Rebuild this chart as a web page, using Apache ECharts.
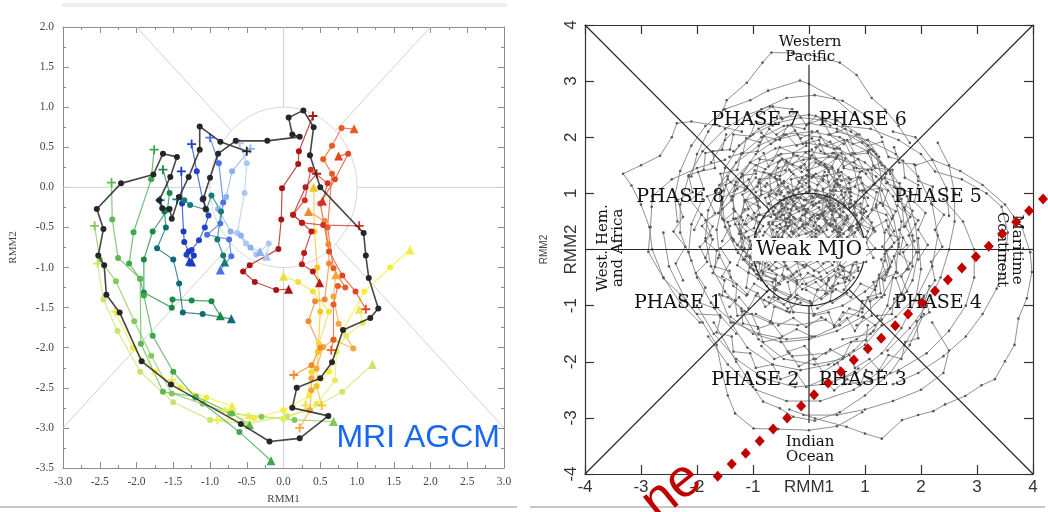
<!DOCTYPE html>
<html>
<head>
<meta charset="utf-8">
<script src="https://cdn.jsdelivr.net/npm/echarts@6/dist/echarts.min.js"></script>
<style>
  html, body { margin: 0; padding: 0; background: #fff; }
  #chart { width: 1048px; height: 512px; }
</style>
</head>
<body>
<div id="chart"></div>
<script>
// ===================== Left panel: MRI AGCM RMM trajectories =====================
// Observed (black) trajectory
const obsTrack = [[-0.50,0.45],[-0.86,0.57],[-1.14,0.76],[-1.14,0.47],[-1.29,0.13],[-1.42,-0.12],[-1.52,-0.39],[-1.55,-0.27],[-1.65,-0.26],[-1.69,-0.16],[-1.54,0.13],[-1.45,0.38],[-1.64,0.42],[-1.77,0.16],[-2.21,0.05],[-2.54,-0.27],[-2.45,-0.52],[-2.52,-0.85],[-2.44,-0.97],[-2.41,-1.34],[-2.23,-1.56],[-1.93,-2.17],[-1.53,-2.46],[-0.58,-2.95],[-0.19,-3.17],[0.22,-3.13],[0.61,-2.85],[0.12,-2.75],[0.18,-2.50],[0.50,-2.38],[0.66,-2.18],[0.81,-1.78],[1.18,-1.63],[1.29,-1.51],[1.16,-1.13],[1.12,-0.85],[1.09,-0.57],[0.50,0.00],[0.36,0.40],[0.41,0.75],[0.27,0.96],[0.07,0.87],[0.12,0.66],[0.22,0.63],[-0.22,0.58],[-0.65,0.58],[-0.89,0.42],[-1.00,0.12],[-1.09,-0.14],[-1.06,-0.27]];

// Model ensemble trajectories (start "+", end triangle)
const track01 = [[-2.57,-0.48],[-2.50,-0.90],[-2.28,-1.17],[-2.03,-1.67],[-1.80,-2.10],[-1.52,-2.57],[-1.10,-2.70],[-0.73,-2.82],[-0.30,-2.86],[0.15,-2.90],[0.68,-2.92]];
const track02 = [[-2.53,-0.95],[-2.45,-1.40],[-2.26,-1.79],[-1.95,-2.30],[-1.50,-2.68],[-1.00,-2.90],[-0.50,-2.95],[0.05,-2.85],[0.35,-2.78],[0.80,-2.55],[1.21,-2.21]];
const track03 = [[-2.29,-1.55],[-2.05,-2.00],[-1.75,-2.30],[-1.40,-2.50],[-1.05,-2.62],[-0.70,-2.73]];
const track04 = [[-1.52,-2.40],[-1.20,-2.60],[-0.80,-2.78],[-0.48,-2.85],[0.00,-2.89],[0.45,-2.70],[0.70,-2.41],[0.72,-2.05],[0.85,-1.85],[1.08,-1.69],[1.03,-1.52]];
const track05 = [[-0.90,-2.90],[-0.40,-2.88],[0.00,-2.78],[0.35,-2.60],[0.62,-2.30],[0.81,-1.78],[1.10,-1.30],[1.45,-1.00],[1.72,-0.78]];
const track06 = [[0.30,-2.72],[0.38,-2.30],[0.48,-1.95],[0.62,-1.55],[0.40,-1.30],[0.20,-1.18],[0.00,-1.11]];
const track07 = [[0.52,-2.72],[0.45,-2.48],[0.47,-2.05],[0.50,-1.55],[0.46,-1.00],[0.42,-0.55],[0.41,0.00]];
const track08 = [[0.22,-3.00],[0.36,-2.78],[0.38,-2.53],[0.38,-2.38],[0.45,-2.26],[0.54,-1.99],[0.68,-1.90],[0.95,-2.01],[0.75,-1.70],[0.68,-1.36],[0.71,-1.09]];
const track09 = [[0.14,-2.34],[0.38,-2.22],[0.50,-2.00],[0.34,-1.67],[0.43,-1.42],[0.56,-1.40],[0.62,-0.95],[0.61,-0.71],[0.56,-0.42],[0.34,-0.30]];
const track10 = [[0.65,-2.03],[0.68,-1.90],[0.68,-1.46],[0.74,-1.23],[0.84,-1.25],[0.68,-1.01],[0.60,-0.50],[0.66,0.17],[0.54,0.35],[0.66,0.52],[0.79,0.74],[0.96,0.73]];
const track11 = [[1.12,-1.52],[0.98,-1.30],[0.80,-1.10],[0.62,-0.80],[0.50,-0.20],[0.70,0.10],[0.88,0.42],[0.75,0.39]];
const track12 = [[1.03,-0.48],[0.54,-0.47],[0.25,-0.44],[0.13,-0.34],[0.29,-0.16],[0.37,0.22],[0.60,0.05],[0.53,-0.17]];
const track13 = [[0.40,0.89],[0.21,0.45],[0.20,0.29],[-0.02,-0.01],[-0.03,-0.40],[-0.07,-0.77],[-0.46,-0.97],[-0.55,-1.05],[-0.39,-1.18],[-0.10,-1.28],[0.07,-1.27]];
const track14 = [[0.45,0.17],[0.30,0.00],[0.13,-0.34],[0.25,-0.44],[0.38,-0.55],[0.28,-0.82],[0.25,-0.96],[0.40,-1.05],[0.49,-1.19]];
const track15 = [[-0.60,0.55],[-0.50,0.30],[-0.53,-0.07],[-0.63,-0.57],[-0.51,-0.70],[-0.37,-0.84],[-0.20,-0.70],[-0.23,-0.86]];
const track16 = [[-0.45,0.48],[-0.70,0.20],[-0.78,-0.12],[-0.89,-0.27],[-0.72,-0.55],[-0.58,-0.60],[-0.45,-0.75],[-0.32,-0.80]];
const track17 = [[-1.00,0.62],[-0.88,0.30],[-0.82,-0.19],[-0.86,-0.45],[-1.04,-0.59],[-0.74,-0.65],[-0.71,-0.86],[-0.86,-1.03]];
const track18 = [[-1.25,0.54],[-1.18,0.20],[-1.10,-0.15],[-1.02,-0.35],[-1.07,-0.50],[-1.15,-0.66],[-1.25,-0.78],[-1.32,-0.84],[-1.28,-0.92]];
const track19 = [[-1.39,0.20],[-1.38,-0.20],[-1.36,-0.55],[-1.35,-0.68],[-1.29,-0.80],[-1.22,-0.85],[-1.25,-0.93]];
const track20 = [[-1.45,-0.15],[-1.35,-0.16],[-1.27,-0.22],[-1.05,-0.28],[-0.98,-0.10],[-0.85,-0.30],[-0.90,-0.65],[-0.82,-0.85],[-0.80,-0.93]];
const track21 = [[-1.68,-0.16],[-1.62,-0.30],[-1.60,-0.50],[-1.72,-0.76],[-1.50,-0.90],[-1.42,-1.20],[-1.37,-1.56],[-1.10,-1.58],[-0.71,-1.64]];
const track22 = [[-1.64,0.22],[-1.55,-0.07],[-1.58,-0.28],[-1.78,-0.55],[-1.90,-0.90],[-1.90,-1.31],[-1.52,-1.50],[-1.51,-1.40],[-1.25,-1.41],[-0.98,-1.42],[-0.86,-1.60]];
const track23 = [[-1.76,0.47],[-1.80,0.10],[-2.04,-0.56],[-2.10,-0.95],[-1.95,-1.14],[-1.90,-1.35],[-1.78,-1.85],[-1.50,-2.30],[-1.20,-2.62],[-0.60,-3.05],[-0.17,-3.41]];
const track24 = [[-2.34,0.06],[-2.33,-0.40],[-2.25,-0.88],[-1.95,-1.14],[-1.94,-1.95],[-1.64,-2.55],[-1.19,-2.61],[-0.70,-2.82],[-0.46,-2.96]];

const modelTracks = [track01, track02, track03, track04, track05, track06, track07, track08, track09, track10, track11, track12,
                     track13, track14, track15, track16, track17, track18, track19, track20, track21, track22, track23, track24];
const modelColors = ['#84c85a', '#c8e66a', '#ecec3c', '#e6ec58', '#f2ee3a', '#f2de3a', '#f5c41e', '#f5a53c', '#f08a30', '#ea5a24', '#e2461f', '#d43020',
                     '#a81414', '#b81a16', '#a9c9f4', '#88b2ee', '#4a72e6', '#2242cc', '#1a3ac0', '#157a78', '#0f6b73', '#168a46', '#3ea84a', '#5fb654'];

// ===================== Right panel: RMM phase-space trajectories =====================
const rmm02 = [[-1.4,-1.2],[-1.0,-1.5],[-0.5,-1.65],[0.0,-1.6],[0.5,-1.45],[0.95,-1.2],[1.3,-0.85],[1.55,-0.4],[1.6,0.1],[1.5,0.6],[1.3,1.05],[0.95,1.4],[0.5,1.65],[0.0,1.75],[-0.5,1.7],[-0.95,1.5],[-1.3,1.2],[-1.55,0.8],[-1.65,0.35],[-1.6,-0.1],[-1.4,-0.5],[-1.1,-0.8]];
const rmm04 = [[-0.5,0.2],[-0.2,0.0],[0.2,0.05],[0.55,0.3],[0.8,0.65],[0.9,1.05],[0.8,1.45],[0.55,1.8],[0.2,2.0],[-0.2,2.05],[-0.6,1.95],[-0.95,1.7],[-1.2,1.35],[-1.35,0.95],[-1.35,0.55],[-1.2,0.2],[-0.95,-0.05],[-0.6,-0.2],[-0.25,-0.2]];
const rmm05 = [[1.6,-1.0],[1.85,-0.55],[1.95,-0.05],[1.9,0.45],[1.75,0.95],[1.45,1.4],[1.05,1.75],[0.55,2.0],[0.05,2.1],[-0.45,2.05],[-0.9,1.85],[-1.3,1.55],[-1.6,1.15],[-1.8,0.7],[-1.85,0.2],[-1.75,-0.3],[-1.5,-0.75],[-1.15,-1.1],[-0.7,-1.3],[-0.2,-1.35],[0.3,-1.25]];
const rmm07 = [[-0.8,-0.9],[-0.4,-1.1],[0.1,-1.15],[0.6,-1.0],[1.0,-0.75],[1.4,-0.4],[1.6,0.05],[1.65,0.5],[1.5,0.95],[1.2,1.3],[0.8,1.55],[0.35,1.65],[-0.1,1.6],[-0.55,1.45],[-0.9,1.2],[-1.15,0.85],[-1.25,0.45],[-1.2,0.05],[-0.95,-0.3]];
const rmm08 = [[0.9,0.4],[1.2,0.8],[1.3,1.25],[1.2,1.7],[0.9,2.05],[0.5,2.3],[0.0,2.4],[-0.5,2.35],[-0.9,2.15],[-1.25,1.85],[-1.5,1.45],[-1.6,1.0],[-1.55,0.55],[-1.35,0.15],[-1.05,-0.15]];
const rmm09 = [[-1.9,0.9],[-2.1,0.45],[-2.15,-0.05],[-2.0,-0.5],[-1.75,-0.95],[-1.35,-1.3],[-0.9,-1.5],[-0.4,-1.6],[0.1,-1.55],[0.55,-1.35],[0.95,-1.05],[1.2,-0.65],[1.35,-0.2],[1.35,0.3],[1.2,0.75]];
const rmm10 = [[-0.3,-1.9],[0.3,-1.85],[0.85,-1.6],[1.3,-1.25],[1.65,-0.8],[1.85,-0.3],[1.85,0.25],[1.7,0.75],[1.4,1.2],[1.0,1.55],[0.5,1.8],[-0.05,1.9],[-0.6,1.8],[-1.05,1.55],[-1.4,1.2]];
const rmm11 = [[0.6,-1.6],[1.1,-1.5],[1.55,-1.2],[1.95,-0.8],[2.2,-0.3],[2.3,0.25],[2.2,0.8],[1.95,1.3],[1.55,1.7],[1.05,1.95],[0.5,2.1]];
const rmm15 = [[1.3,1.5],[0.95,1.9],[0.5,2.15],[0.0,2.25],[-0.45,2.2],[-0.85,2.0],[-1.2,1.7],[-1.45,1.3],[-1.55,0.85],[-1.5,0.4],[-1.3,0.0],[-1.0,-0.35],[-0.6,-0.55]];
const rmm16 = [[1.7,0.4],[1.65,0.9],[1.45,1.35],[1.15,1.75],[0.75,2.1],[0.3,2.3],[-0.15,2.35],[-0.6,2.25],[-1.0,2.05],[-1.35,1.75]];
const rmm17 = [[-1.6,-0.8],[-1.4,-1.3],[-1.1,-1.75],[-0.65,-2.05],[-0.15,-2.15],[0.35,-2.05],[0.8,-1.8],[1.15,-1.45],[1.4,-1.0],[1.5,-0.5]];
const rmm18 = [[-1.2,-1.1],[-0.9,-1.6],[-0.45,-1.95],[0.1,-2.05],[0.6,-1.95],[1.0,-1.7],[1.3,-1.35]];
const rmm19 = [[-2.0,-1.0],[-1.7,-1.5],[-1.3,-1.95],[-0.8,-2.3],[-0.25,-2.45],[0.3,-2.4],[0.85,-2.2],[1.3,-1.85],[1.65,-1.4],[1.9,-0.9],[2.0,-0.35],[1.95,0.2]];
const rmm20 = [[-1.8,-1.55],[-1.45,-2.05],[-0.95,-2.5],[-0.4,-2.7],[0.2,-2.7],[0.8,-2.5],[1.3,-2.15],[1.7,-1.7],[2.0,-1.2],[2.15,-0.65]];
const rmm25 = [[0.8,2.4],[0.45,2.7],[0.0,2.95],[-0.16,3.01],[-0.73,2.83],[-1.05,2.66],[-1.5,2.5],[-1.85,2.2],[-2.1,1.85],[-2.3,1.4],[-2.4,0.95],[-2.35,0.5]];
const rmm26 = [[1.8,1.9],[1.6,2.2],[1.36,2.49],[1.12,2.7],[0.85,3.11],[0.55,3.33],[0.1,3.45],[-0.3,3.5],[-0.67,3.51],[-0.83,3.33],[-1.11,2.97],[-1.47,2.66],[-1.53,2.49],[-1.8,2.1],[-2.0,1.7],[-2.1,1.3]];
const rmm27 = [[-1.2,2.1],[-1.6,2.2],[-2.1,2.28],[-2.36,2.25],[-2.45,2.0],[-2.66,1.67],[-3.0,1.5],[-3.32,1.35],[-3.17,1.14],[-3.0,0.8],[-2.85,0.4],[-2.8,0.0],[-2.6,-0.5],[-2.3,-0.95],[-1.95,-1.3]];
const rmm28 = [[-1.5,1.6],[-2.0,1.45],[-2.45,1.25],[-2.8,0.95],[-2.81,0.76],[-2.83,0.4],[-2.87,-0.04],[-2.6,-0.51],[-2.3,-0.8],[-2.0,-1.15],[-1.59,-1.17],[-1.3,-1.5]];
const rmm29 = [[-2.6,0.3],[-2.5,-0.3],[-2.2,-0.9],[-1.9,-1.3],[-1.65,-1.7],[-1.55,-2.2],[-1.45,-2.6],[-1.32,-2.92],[-0.99,-3.19],[-0.55,-3.2],[0.0,-3.22],[0.5,-3.15],[0.95,-2.9]];
const rmm30 = [[-1.7,-1.3],[-1.3,-2.0],[-1.0,-2.45],[-0.82,-2.71],[-0.52,-2.83],[-0.28,-2.98],[0.1,-3.05],[0.55,-2.9],[1.0,-2.6],[1.45,-2.2],[1.8,-1.7],[2.05,-1.15]];
const rmm31 = [[1.9,1.5],[2.2,1.6],[2.7,1.4],[3.1,1.15],[3.5,0.8],[3.8,0.4],[3.95,-0.05],[3.98,-0.4],[3.89,-0.87],[3.74,-1.23],[3.67,-1.7],[3.5,-1.99],[3.32,-2.31],[3.08,-2.42],[2.79,-2.61],[2.43,-2.76],[2.22,-2.88],[1.95,-2.95],[1.66,-3.04],[1.3,-3.37],[1.0,-3.28],[0.67,-3.16],[0.11,-3.01],[-0.35,-2.85]];
const rmm32 = [[0.6,2.2],[1.1,2.15],[1.6,1.95],[2.0,1.7],[2.25,1.39],[2.73,1.25],[3.17,1.0],[3.44,0.76],[3.55,0.3],[3.5,-0.2],[3.35,-0.7],[3.1,-1.15],[2.8,-1.55],[2.4,-1.9],[1.95,-2.2],[1.5,-2.4]];
const rmm33 = [[2.4,0.9],[2.75,0.5],[2.95,0.0],[2.95,-0.5],[2.8,-1.0],[2.5,-1.45],[2.1,-1.85],[1.6,-2.15],[1.1,-2.35],[0.6,-2.4]];
const rmm34 = [[2.3,1.9],[2.5,1.5],[2.6,1.0],[2.6,0.5],[2.5,0.0],[2.35,-0.5],[2.1,-1.0],[1.8,-1.4],[1.4,-1.8]];
const rmm35 = [[2.2,-1.3],[2.5,-1.8],[2.4,-2.2],[2.0,-2.5],[1.5,-2.7],[1.0,-2.85],[0.5,-2.95],[-0.1,-2.95]];
const rmm36 = [[1.5,2.1],[1.9,2.0],[2.2,1.6],[2.45,1.1],[2.5,0.6]];
const rmm37 = [[1.3,2.0],[1.0,2.4],[0.6,2.65],[0.1,2.75],[-0.4,2.7],[-0.85,2.5],[-1.2,2.25],[-1.5,1.95],[-1.75,1.55]];
const rmm38 = [[-0.3,2.5],[-0.7,2.55],[-1.1,2.4],[-1.5,2.15],[-1.9,1.75],[-2.15,1.3],[-2.3,0.8],[-2.3,0.3],[-2.1,-0.2]];
const rmm41 = [[0.12,0.35],[-0.15,0.52],[-0.38,0.41],[-0.55,0.66],[-0.81,0.58],[-0.95,0.32],[-0.78,0.05],[-0.92,-0.21],[-0.66,-0.38],[-0.41,-0.29],[-0.22,-0.55],[0.08,-0.47],[0.31,-0.62],[0.52,-0.35],[0.73,-0.41],[0.84,-0.12],[0.66,0.14],[0.79,0.42],[0.55,0.61],[0.38,0.88],[0.07,0.79],[-0.18,1.02]];
const rmm42 = [[-0.35,-0.12],[-0.11,-0.28],[0.17,-0.15],[0.28,0.09],[0.51,0.22],[0.47,0.51],[0.22,0.63],[0.27,0.92],[0.01,1.12],[-0.26,0.97],[-0.49,1.18],[-0.71,0.95],[-0.64,0.68],[-0.88,0.49],[-1.09,0.61],[-1.22,0.33],[-1.03,0.07],[-1.18,-0.18],[-0.94,-0.44],[-0.61,-0.52]];
const rmm43 = [[0.65,0.78],[0.42,1.05],[0.55,1.31],[0.28,1.52],[-0.03,1.41],[-0.21,1.67],[-0.52,1.58],[-0.68,1.33],[-0.97,1.41],[-1.11,1.12],[-0.92,0.86],[-1.15,0.71],[-1.32,0.45],[-1.14,0.21],[-1.27,-0.06],[-1.02,-0.27],[-0.83,-0.11],[-0.58,-0.33]];
const rmm44 = [[0.95,0.1],[1.18,0.32],[1.05,0.59],[1.27,0.83],[1.02,1.02],[0.88,1.29],[0.58,1.22],[0.41,1.48],[0.12,1.61],[-0.13,1.38],[-0.39,1.55],[-0.61,1.29],[-0.49,1.02],[-0.72,0.82],[-0.58,0.55],[-0.79,0.31],[-0.55,0.12]];
const rmm45 = [[-0.25,0.95],[-0.48,0.78],[-0.33,0.52],[-0.57,0.31],[-0.42,0.07],[-0.63,-0.18],[-0.38,-0.35],[-0.12,-0.19],[0.09,-0.38],[0.34,-0.21],[0.29,0.06],[0.55,0.18],[0.42,0.45],[0.61,0.67],[0.36,0.83],[0.18,0.61],[-0.08,0.72],[-0.05,0.45],[-0.29,0.28]];
const rmm46 = [[1.35,-0.55],[1.48,-0.22],[1.31,0.05],[1.52,0.33],[1.38,0.62],[1.12,0.71],[1.21,1.02],[0.95,1.18],[0.69,1.08],[0.58,1.38],[0.27,1.31],[0.11,1.05],[-0.17,1.19],[-0.33,0.92],[-0.18,0.68],[-0.42,0.55]];
const rmm47 = [[-1.55,0.15],[-1.41,0.42],[-1.62,0.65],[-1.38,0.88],[-1.49,1.15],[-1.21,1.29],[-1.05,1.55],[-0.78,1.43],[-0.55,1.68],[-0.29,1.51],[-0.06,1.73],[0.21,1.55],[0.45,1.72],[0.62,1.48],[0.88,1.61],[1.02,1.35]];
const rmm48 = [[0.42,-0.95],[0.68,-0.78],[0.61,-0.51],[0.88,-0.38],[0.79,-0.09],[1.02,0.12],[0.85,0.38],[0.98,0.65],[0.72,0.81],[0.74,1.08],[0.45,1.12],[0.32,0.88],[0.05,0.95],[-0.11,0.71],[-0.38,0.82],[-0.51,0.58]];
const rmm49 = [[-0.72,-0.85],[-0.45,-0.98],[-0.21,-0.81],[0.05,-0.96],[0.29,-0.79],[0.35,-0.51],[0.61,-0.38],[0.48,-0.12],[0.71,0.08],[0.52,0.31],[0.69,0.55],[0.41,0.69],[0.44,0.97],[0.15,1.05],[-0.09,0.88],[-0.35,1.01],[-0.44,0.74]];
const rmm50 = [[-1.12,0.45],[-0.88,0.62],[-0.95,0.91],[-0.68,1.05],[-0.71,1.34],[-0.42,1.41],[-0.28,1.69],[0.02,1.62],[0.19,1.88],[0.45,1.79],[0.68,1.95],[0.82,1.71],[1.08,1.78],[1.15,1.49],[1.38,1.35]];
const rmm51 = [[0.25,1.25],[-0.02,1.31],[-0.19,1.08],[-0.45,1.22],[-0.59,0.98],[-0.85,1.05],[-0.91,0.78],[-1.15,0.88],[-1.21,0.58],[-1.45,0.49],[-1.38,0.21],[-1.58,0.02],[-1.41,-0.23],[-1.55,-0.48],[-1.29,-0.62],[-1.31,-0.91]];
const rmm52 = [[-0.05,-0.72],[0.22,-0.88],[0.48,-0.71],[0.75,-0.85],[0.92,-0.61],[1.18,-0.72],[1.25,-0.45],[1.45,-0.31],[1.38,-0.02],[1.59,0.18],[1.42,0.41],[1.55,0.68],[1.31,0.82],[1.25,1.09],[0.98,1.05]];
const rmm53 = [[-0.85,-0.55],[-1.08,-0.41],[-1.05,-0.12],[-1.28,0.08],[-1.12,0.32],[-1.31,0.55],[-1.08,0.72],[-1.19,0.98],[-0.92,1.12],[-0.81,1.38],[-0.52,1.31],[-0.41,1.58],[-0.15,1.45],[0.05,1.68],[0.29,1.48],[0.48,1.62]];
const rmm54 = [[0.58,0.35],[0.31,0.48],[0.12,0.28],[-0.11,0.45],[-0.32,0.21],[-0.51,0.38],[-0.68,0.12],[-0.52,-0.12],[-0.71,-0.35],[-0.45,-0.52],[-0.22,-0.39],[-0.05,-0.61],[0.21,-0.48],[0.38,-0.69],[0.55,-0.45],[0.49,-0.18],[0.71,-0.05]];
const rmm55 = [[1.75,-0.35],[1.92,-0.05],[1.78,0.25],[1.95,0.52],[1.71,0.71],[1.82,1.02],[1.52,1.11],[1.49,1.42],[1.18,1.45],[1.05,1.72],[0.75,1.68],[0.62,1.95],[0.32,1.85],[0.15,2.11],[-0.15,1.98],[-0.32,2.22],[-0.58,2.05]];
const rmm56 = [[-1.85,-0.15],[-1.72,0.18],[-1.91,0.42],[-1.68,0.65],[-1.82,0.95],[-1.52,1.05],[-1.58,1.35],[-1.28,1.42],[-1.21,1.71],[-0.92,1.75],[-0.81,2.02],[-0.52,1.95],[-0.38,2.21],[-0.08,2.15],[0.12,2.38],[0.38,2.21]];
const rmm57 = [[0.85,-1.35],[1.12,-1.18],[1.09,-0.92],[1.35,-0.81],[1.31,-0.52],[1.58,-0.42],[1.52,-0.12],[1.75,0.08],[1.61,0.35],[1.81,0.58],[1.58,0.78],[1.65,1.08],[1.38,1.18],[1.35,1.48]];
const rmm58 = [[-0.55,-1.35],[-0.28,-1.22],[-0.05,-1.38],[0.22,-1.21],[0.45,-1.35],[0.61,-1.12],[0.88,-1.18],[0.95,-0.92],[1.21,-0.85],[1.15,-0.58],[1.38,-0.45],[1.29,-0.18],[1.48,0.05]];
const rmm59 = [[-1.45,-0.85],[-1.21,-1.05],[-1.18,-1.32],[-0.91,-1.38],[-0.82,-1.65],[-0.52,-1.58],[-0.38,-1.82],[-0.08,-1.72],[0.12,-1.95],[0.38,-1.78],[0.62,-1.91],[0.75,-1.65],[1.02,-1.62],[1.05,-1.35]];
const rmm60 = [[-2.05,0.35],[-1.92,0.62],[-2.12,0.88],[-1.88,1.08],[-1.98,1.38],[-1.68,1.45],[-1.72,1.75],[-1.41,1.78],[-1.35,2.05],[-1.05,2.02],[-0.95,2.28],[-0.65,2.21]];
const rmm61 = [[0.35,2.05],[0.62,1.88],[0.85,2.05],[1.05,1.85],[1.31,1.92],[1.42,1.65],[1.68,1.58],[1.71,1.28],[1.95,1.15],[1.88,0.85],[2.08,0.65],[1.95,0.35],[2.12,0.08],[1.95,-0.18]];
const rmm62 = [[-0.15,0.05],[0.05,-0.15],[0.28,-0.02],[0.45,-0.22],[0.62,-0.02],[0.52,0.22],[0.72,0.38],[0.55,0.58],[0.31,0.52],[0.18,0.75],[-0.08,0.62],[-0.25,0.81],[-0.45,0.62],[-0.38,0.38],[-0.61,0.22],[-0.48,-0.02]];
const rmm63 = [[-0.95,-1.15],[-0.68,-1.28],[-0.62,-1.02],[-0.35,-1.12],[-0.21,-0.88],[0.05,-0.98],[0.15,-0.72],[0.42,-0.75],[0.48,-0.48],[0.72,-0.55],[0.78,-0.28],[1.02,-0.22],[0.98,0.05]];
const rmm64 = [[1.05,0.92],[0.82,1.12],[0.91,1.38],[0.62,1.45],[0.58,1.72],[0.28,1.71],[0.18,1.95],[-0.11,1.88],[-0.25,2.12],[-0.52,1.98],[-0.71,2.15],[-0.88,1.91],[-1.12,1.98],[-1.18,1.72],[-1.42,1.65]];
const rmm65 = [[-0.35,-0.85],[-0.61,-0.72],[-0.58,-0.45],[-0.85,-0.38],[-0.81,-0.11],[-1.05,0.02],[-0.95,0.28],[-1.15,0.45],[-0.98,0.65],[-1.12,0.88],[-0.85,0.98],[-0.88,1.25],[-0.61,1.28],[-0.55,1.55]];
const rmm66 = [[2.05,-0.85],[2.25,-0.55],[2.18,-0.22],[2.38,0.05],[2.25,0.35],[2.41,0.62],[2.18,0.82],[2.21,1.12],[1.95,1.22],[1.88,1.52],[1.61,1.55],[1.52,1.82]];
const rmm67 = [[-2.25,-0.55],[-2.38,-0.25],[-2.21,0.05],[-2.42,0.32],[-2.25,0.58],[-2.35,0.88],[-2.08,1.02],[-2.15,1.32],[-1.88,1.42],[-1.85,1.72],[-1.55,1.78],[-1.48,2.05]];
const rmm68 = [[0.05,-1.55],[-0.22,-1.42],[-0.48,-1.55],[-0.65,-1.32],[-0.91,-1.41],[-1.02,-1.15],[-1.28,-1.18],[-1.32,-0.91],[-1.55,-0.82],[-1.51,-0.55],[-1.72,-0.42],[-1.62,-0.15]];
const rmm69 = [[0.72,-0.15],[0.88,0.12],[0.71,0.35],[0.85,0.61],[0.62,0.75],[0.65,1.02],[0.38,1.05],[0.32,1.32],[0.05,1.28],[-0.08,1.52],[-0.32,1.38],[-0.48,1.61],[-0.72,1.48],[-0.81,1.72]];
const rmm70 = [[-0.62,0.05],[-0.41,-0.18],[-0.48,-0.45],[-0.22,-0.58],[-0.25,-0.85],[0.02,-0.92],[0.08,-1.18],[0.35,-1.12],[0.45,-1.38],[0.68,-1.22],[0.82,-1.45],[0.98,-1.21],[1.18,-1.35]];
const rmm71 = [[1.45,-1.05],[1.65,-0.78],[1.55,-0.51],[1.78,-0.35],[1.68,-0.05],[1.88,0.15],[1.72,0.42],[1.85,0.69],[1.6,0.88],[1.62,1.18],[1.35,1.28]];
const rmm72 = [[-1.75,-0.95],[-1.58,-1.21],[-1.65,-1.48],[-1.38,-1.55],[-1.35,-1.82],[-1.05,-1.85],[-0.95,-2.11],[-0.65,-2.05],[-0.51,-2.31],[-0.22,-2.21],[-0.05,-2.45],[0.25,-2.32],[0.45,-2.51],[0.68,-2.31],[0.91,-2.42],[1.02,-2.15]];
const rmm73 = [[0.45,-2.05],[0.72,-1.88],[0.82,-2.11],[1.08,-1.95],[1.25,-2.15],[1.42,-1.88],[1.65,-1.95],[1.72,-1.65],[1.95,-1.58],[1.92,-1.28],[2.15,-1.12],[2.05,-0.82]];
const rmm74 = [[-0.85,-1.72],[-0.62,-1.95],[-0.35,-1.85],[-0.18,-2.08],[0.08,-1.95],[0.25,-2.18],[0.51,-2.02],[0.62,-2.28],[0.88,-2.12]];
const rmm75 = [[0.15,0.55],[0.38,0.71],[0.32,0.98],[0.55,1.15],[0.35,1.38],[0.48,1.62],[0.21,1.75],[0.05,1.98],[-0.22,1.85],[-0.41,2.05],[-0.68,1.88],[-0.85,2.08]];
const rmm76 = [[-0.52,-0.62],[-0.75,-0.75],[-0.98,-0.61],[-1.12,-0.82],[-1.35,-0.65],[-1.42,-0.38],[-1.68,-0.31],[-1.65,-0.02],[-1.85,0.15],[-1.72,0.41],[-1.92,0.62]];
const rmm77 = [[0.95,0.55],[1.15,0.38],[1.38,0.52],[1.45,0.25],[1.68,0.21],[1.62,-0.08],[1.81,-0.25],[1.65,-0.48],[1.75,-0.75],[1.52,-0.88],[1.48,-1.15],[1.22,-1.18]];
const rmm78 = [[-0.25,0.45],[-0.05,0.28],[0.18,0.42],[0.35,0.21],[0.25,-0.05],[0.42,-0.28],[0.18,-0.41],[-0.05,-0.28],[-0.28,-0.45],[-0.45,-0.22],[-0.3,0.02],[-0.52,0.18],[-0.35,0.42],[-0.12,0.61],[0.11,0.48]];
const rmm79 = [[-1.32,1.05],[-1.55,0.92],[-1.61,0.65],[-1.85,0.52],[-1.75,0.25],[-1.95,0.05],[-1.82,-0.22],[-2.02,-0.42],[-1.85,-0.68],[-1.95,-0.95],[-1.68,-1.05]];
const rmm80 = [[1.25,1.65],[1.05,1.95],[0.78,1.88],[0.65,2.15],[0.38,2.05],[0.22,2.32],[-0.05,2.22],[-0.21,2.45],[-0.48,2.32],[-0.65,2.55],[-0.92,2.38]];
const rmm81 = [[0.35,0.12],[0.12,0.22],[-0.12,0.08],[-0.28,0.31],[-0.15,0.55],[0.08,0.42],[0.25,0.65],[0.05,0.85],[-0.22,0.72],[-0.42,0.92],[-0.61,0.75]];
const rmm82 = [[-0.72,0.45],[-0.55,0.22],[-0.78,0.02],[-0.6,-0.22],[-0.82,-0.42],[-0.55,-0.6],[-0.32,-0.48],[-0.12,-0.71],[0.12,-0.58],[0.32,-0.78],[0.52,-0.6]];
const rmm83 = [[0.62,-0.72],[0.8,-0.5],[0.58,-0.3],[0.78,-0.1],[0.6,0.12],[0.82,0.3],[0.65,0.52],[0.45,0.35],[0.28,0.55],[0.45,0.78],[0.22,0.92]];
const rmm84 = [[-0.45,0.88],[-0.2,0.92],[-0.05,0.65],[0.18,0.85],[0.42,0.68],[0.38,0.42],[0.62,0.28],[0.48,0.05],[0.25,0.18],[0.05,-0.05],[-0.18,0.15]];
const rmm85 = [[0.05,0.32],[-0.18,0.25],[-0.35,0.48],[-0.58,0.55],[-0.48,0.82],[-0.72,0.98],[-0.55,1.15],[-0.28,1.05],[-0.12,1.28],[0.15,1.15],[0.28,1.38]];
const rmm86 = [[0.25,-0.25],[0.45,-0.08],[0.31,0.18],[0.55,0.38],[0.41,0.62],[0.62,0.82],[0.38,0.95],[0.12,0.82],[-0.05,1.02],[-0.28,0.85],[-0.35,0.58]];
const rmm87 = [[-0.82,0.25],[-0.65,0.48],[-0.38,0.55],[-0.28,0.78],[-0.02,0.72],[0.15,0.95],[0.38,0.82],[0.58,0.98],[0.72,0.75],[0.92,0.82],[0.95,0.55]];
const rmm88 = [[0.5,1.25],[0.25,1.05],[0.32,0.78],[0.08,0.62],[0.15,0.35],[-0.08,0.18],[0.02,-0.08],[-0.22,-0.2],[-0.15,-0.45],[-0.38,-0.58],[-0.32,-0.82]];
const rmm89 = [[0.02,0.55],[0.21,0.38],[0.45,0.52],[0.38,0.78],[0.62,0.92],[0.51,1.18],[0.25,1.08],[0.08,1.32],[-0.18,1.21],[-0.35,1.42],[-0.58,1.25],[-0.51,0.98]];
const rmm90 = [[-0.62,0.62],[-0.41,0.48],[-0.48,0.22],[-0.25,0.08],[-0.31,-0.18],[-0.08,-0.32],[0.15,-0.21],[0.32,-0.42],[0.55,-0.28],[0.61,-0.02],[0.82,0.12],[0.75,0.41]];
const rmm91 = [[0.88,-0.32],[0.68,-0.51],[0.45,-0.38],[0.22,-0.55],[-0.02,-0.42],[-0.21,-0.62],[-0.45,-0.48],[-0.62,-0.68],[-0.85,-0.52],[-0.78,-0.25],[-0.98,-0.08],[-0.85,0.18]];
const rmm92 = [[-0.15,1.48],[0.08,1.31],[0.32,1.45],[0.45,1.22],[0.71,1.28],[0.75,1.02],[0.98,0.92],[0.92,0.65],[1.12,0.48],[1.02,0.22],[1.18,0.02],[0.98,-0.15]];
const rmm93 = [[-1.05,-0.32],[-0.82,-0.18],[-0.88,0.08],[-0.65,0.21],[-0.72,0.48],[-0.48,0.62],[-0.52,0.88],[-0.28,0.98],[-0.32,1.25],[-0.05,1.32],[0.12,1.55],[0.35,1.42]];
const rmm94 = [[0.35,-0.55],[0.15,-0.72],[-0.12,-0.61],[-0.32,-0.82],[-0.58,-0.71],[-0.71,-0.95],[-0.95,-0.82],[-1.08,-1.05],[-1.25,-0.85],[-1.42,-1.02]];
const rmm95 = [[0.75,0.95],[0.52,0.78],[0.31,0.95],[0.08,0.78],[-0.15,0.92],[-0.32,0.71],[-0.55,0.82],[-0.68,0.58],[-0.91,0.62],[-0.98,0.38],[-1.21,0.28],[-1.15,0.02]];
const rmm96 = [[-0.42,-0.05],[-0.21,0.12],[-0.02,-0.02],[0.18,0.15],[0.38,0.02],[0.58,0.18],[0.48,0.42],[0.68,0.6],[0.52,0.82],[0.72,1.02],[0.51,1.15]];
const rmm97 = [[1.15,-0.15],[1.02,0.12],[1.15,0.35],[0.92,0.45],[0.98,0.72],[0.75,0.82],[0.71,1.08],[0.48,1.18],[0.42,1.45],[0.18,1.52],[0.05,1.78]];
const rmm98 = [[-0.88,1.18],[-0.68,1.32],[-0.45,1.18],[-0.28,1.35],[-0.05,1.18],[0.12,1.35],[0.35,1.2],[0.52,1.38],[0.72,1.18],[0.92,1.28],[1.02,1.02]];
const rmm99 = [[-1.35,0.72],[-1.18,0.52],[-1.25,0.28],[-1.05,0.15],[-1.12,-0.12],[-0.88,-0.25],[-0.91,-0.52],[-0.65,-0.58],[-0.62,-0.85],[-0.38,-0.88],[-0.28,-1.12]];
const rmm100 = [[0.15,-1.05],[0.38,-0.92],[0.42,-0.65],[0.65,-0.58],[0.62,-0.32],[0.85,-0.22],[0.78,0.05],[0.98,0.21],[0.85,0.45],[1.02,0.68],[0.82,0.85]];
const rmm101 = [[-0.05,1.85],[-0.28,1.72],[-0.52,1.82],[-0.65,1.58],[-0.88,1.61],[-0.95,1.35],[-1.18,1.32],[-1.15,1.05],[-1.38,0.95],[-1.32,0.68],[-1.52,0.52]];
const rmm102 = [[0.52,0.05],[0.32,-0.12],[0.12,0.02],[-0.05,-0.15],[-0.25,0.02],[-0.42,-0.12],[-0.55,0.08],[-0.45,0.32],[-0.65,0.45],[-0.52,0.68],[-0.72,0.82]];
const rmm103 = [[0.28,0.68],[0.05,0.58],[-0.12,0.78],[-0.35,0.65],[-0.42,0.42],[-0.65,0.35],[-0.62,0.08],[-0.85,-0.05],[-0.72,-0.28],[-0.92,-0.45],[-0.75,-0.65]];
const rmm104 = [[1.48,0.55],[1.32,0.78],[1.41,1.05],[1.15,1.15],[1.12,1.42],[0.85,1.45],[0.78,1.72],[0.52,1.68],[0.38,1.92],[0.12,1.82]];
const rmm105 = [[-1.65,1.05],[-1.45,1.25],[-1.28,1.08],[-1.08,1.25],[-0.95,1.02],[-0.75,1.18],[-0.58,0.98],[-0.38,1.12],[-0.22,0.92],[0.02,1.05]];
const rmm106 = [[0.55,-1.25],[0.72,-1.05],[0.95,-1.12],[1.05,-0.85],[1.28,-0.78],[1.25,-0.51],[1.42,-0.35],[1.35,-0.08],[1.52,0.12],[1.38,0.35]];
const rmm107 = [[-0.45,0.32],[-0.25,0.55],[-0.02,0.45],[0.15,0.62],[0.35,0.45],[0.48,0.68],[0.68,0.55],[0.81,0.75],[0.88,0.48],[1.05,0.32]];
const rmm108 = [[0.08,0.92],[-0.12,1.12],[-0.38,1.02],[-0.52,1.25],[-0.78,1.12],[-0.95,1.28],[-1.12,1.08],[-1.32,1.15],[-1.38,0.88],[-1.55,0.72]];
const rmm109 = [[-0.15,-0.95],[-0.38,-1.05],[-0.55,-0.88],[-0.78,-1.02],[-0.92,-0.78],[-1.12,-0.68],[-1.08,-0.42],[-1.28,-0.28],[-1.18,-0.02],[-1.35,0.18]];
const rmm110 = [[0.68,0.22],[0.88,0.35],[0.82,0.62],[1.05,0.78],[0.95,1.05],[1.18,1.18],[1.05,1.42],[1.28,1.55],[1.12,1.78]];
const rmm111 = [[-0.28,0.18],[-0.08,0.38],[0.12,0.22],[0.32,0.35],[0.25,0.6],[0.45,0.72],[0.28,0.92],[0.48,1.05],[0.25,1.22]];
const rmm112 = [[0.05,0.15],[-0.15,-0.05],[-0.32,0.12],[-0.52,-0.05],[-0.68,0.15],[-0.85,0.02],[-0.95,0.22],[-0.82,0.42],[-1.02,0.55],[-0.88,0.75]];
const rmm113 = [[0.42,0.32],[0.62,0.45],[0.55,0.72],[0.75,0.88],[0.58,1.05],[0.75,1.25],[0.52,1.42],[0.65,1.62],[0.42,1.72]];
const rmm114 = [[-0.55,1.05],[-0.78,0.92],[-0.72,0.68],[-0.95,0.58],[-0.88,0.32],[-1.08,0.22],[-0.98,-0.02],[-1.15,-0.18],[-0.98,-0.38]];
const rmm115 = [[0.18,-0.05],[0.38,0.12],[0.25,0.32],[0.05,0.22],[-0.12,0.42],[-0.32,0.32],[-0.28,0.58],[-0.48,0.72],[-0.3,0.88],[-0.08,0.78],[0.12,0.98]];
const rmm116 = [[-0.32,0.62],[-0.52,0.45],[-0.35,0.25],[-0.55,0.08],[-0.38,-0.08],[-0.18,0.08],[0.02,-0.08],[0.22,0.08],[0.42,-0.05],[0.58,0.12]];
const rmm117 = [[0.88,0.18],[0.72,0.38],[0.55,0.25],[0.38,0.45],[0.18,0.32],[0.02,0.52],[-0.18,0.38],[-0.38,0.55],[-0.58,0.42]];
const rmm118 = [[-0.05,0.68],[0.18,0.55],[0.35,0.75],[0.18,0.95],[-0.05,0.88],[-0.22,1.08],[-0.45,0.95],[-0.38,0.72],[-0.6,0.62]];

const rmmTracks = [rmm02, rmm04, rmm05, rmm07, rmm08, rmm09, rmm10, rmm11, rmm15, rmm16, rmm17, rmm18, rmm19, rmm20,
                   rmm25, rmm26, rmm27, rmm28, rmm29, rmm30, rmm31, rmm32, rmm33, rmm34, rmm35, rmm36, rmm37, rmm38,
                   rmm41, rmm42, rmm43, rmm44, rmm45, rmm46, rmm47, rmm48, rmm49, rmm50, rmm51, rmm52, rmm53, rmm54,
                   rmm55, rmm56, rmm57, rmm58, rmm59, rmm60, rmm61, rmm62, rmm63, rmm64, rmm65, rmm66, rmm67, rmm68,
                   rmm69, rmm70, rmm71, rmm72, rmm73, rmm74, rmm75, rmm76, rmm77, rmm78, rmm79, rmm80, rmm81, rmm82,
                   rmm83, rmm84, rmm85, rmm86, rmm87, rmm88, rmm89, rmm90, rmm91, rmm92, rmm93, rmm94, rmm95, rmm96,
                   rmm97, rmm98, rmm99, rmm100, rmm101, rmm102, rmm103, rmm104, rmm105, rmm106, rmm107, rmm108, rmm109,
                   rmm110, rmm111, rmm112, rmm113, rmm114, rmm115, rmm116, rmm117, rmm118];

// Red dotted guide line (RMM1, RMM2)
const guideRMM1 = [4.18, 3.93, 3.70, 3.45, 3.21, 2.98, 2.73, 2.48, 2.25, 2.02, 1.77, 1.54, 1.29, 1.05, 0.80, 0.57, 0.34, 0.09, -0.14, -0.39, -0.64, -0.88, -1.13, -1.38, -1.63];
const guideRMM2 = [0.90, 0.69, 0.49, 0.28, 0.06, -0.13, -0.33, -0.54, -0.74, -0.95, -1.15, -1.36, -1.58, -1.77, -1.97, -2.18, -2.38, -2.59, -2.79, -3.00, -3.20, -3.41, -3.63, -3.82, -4.04];

// Region labels of the phase diagram
const phaseNames = ['PHASE 1', 'PHASE 2', 'PHASE 3', 'PHASE 4', 'PHASE 5', 'PHASE 6', 'PHASE 7', 'PHASE 8'];
const regionNames = ['Western\nPacific', 'Indian\nOcean', 'West. Hem.\nand Africa', 'Maritime\nContinent'];

// ----- layout (data-space anchor points for the labels) -----
const phaseAnchor = [[-2.34,-0.95],[-0.96,-2.33],[0.96,-2.33],[2.30,-0.95],[2.30,0.94],[0.96,2.31],[-0.96,2.31],[-2.30,0.94]];
const regionAnchor = [[0.02,3.57],[0.02,-3.57],[-3.54,0.03],[3.57,0.0]];
const regionRotate = [0, 0, 90, -90];

const chart = echarts.init(document.getElementById('chart'), null, { renderer: 'canvas', width: 1048, height: 512 });
const PLUS = 'path://M4,0H6V4H10V6H6V10H4V6H0V4H4Z';
const R = Math.SQRT1_2;

// unit circle in data space
const unitCircle = [];
for (let a = 0; a <= 360; a += 4) unitCircle.push([Math.cos(a * Math.PI / 180), Math.sin(a * Math.PI / 180)]);

function refSeries(xi, yi, pts, color, width, z) {
  return { type: 'line', xAxisIndex: xi, yAxisIndex: yi, data: pts, symbol: 'none', silent: true, z: z,
           lineStyle: { color: color, width: width }, animation: false };
}
const series = [];

// left reference frame (light gray)
const leftSegs = [
  [[-3, 0], [-1, 0]], [[1, 0], [3, 0]], [[0, 1], [0, 2]], [[0, -1], [0, -3.5]],
  [[R, R], [2, 2]], [[-R, R], [-2, 2]], [[-R, -R], [-3, -3]], [[R, -R], [3, -3]]
];
leftSegs.forEach(s => series.push(refSeries(0, 0, s, '#d2d2d2', 1, 1)));
series.push(refSeries(0, 0, unitCircle, '#d8d8d8', 1, 1));

function trackSeries(track, color, isObs) {
  const last = track.length - 1;
  return {
    type: 'line', xAxisIndex: 0, yAxisIndex: 0, z: isObs ? 6 : 3, silent: true, animation: false,
    data: track.map((p, i) => ({
      value: p,
      symbol: i === 0 ? PLUS : (i === last && !isObs ? 'triangle' : 'circle'),
      symbolSize: i === 0 ? 9 : (i === last && !isObs ? 9 : 6)
    })),
    showSymbol: true,
    lineStyle: { color: color, width: isObs ? 1.6 : 1.2, opacity: isObs ? 0.85 : 0.75 },
    itemStyle: { color: color }
  };
}
modelTracks.forEach((t, i) => series.push(trackSeries(t, modelColors[i], false)));
series.push(trackSeries(obsTrack, '#262626', true));

// right panel trajectories
rmmTracks.forEach(t => series.push({
  type: 'line', xAxisIndex: 2, yAxisIndex: 2, data: t, symbol: 'circle', symbolSize: 2.6, showSymbol: true,
  lineStyle: { color: '#7c7c7c', width: 0.85 }, itemStyle: { color: '#5a5a5a' }, silent: true, animation: false, z: 2
}));

// right reference frame (black)
const rightSegs = [
  [[-4, 0], [-1, 0]], [[1, 0], [4, 0]], [[0, 1], [0, 3.29]], [[0, -1], [0, -3.09]],
  [[R, R], [4, 4]], [[-R, R], [-4, 4]], [[-R, -R], [-4, -4]], [[R, -R], [4, -4]]
];
rightSegs.forEach(s => series.push(refSeries(2, 2, s, '#262626', 1.2, 4)));
series.push(refSeries(2, 2, unitCircle, '#262626', 1.2, 4));

const hiddenDot = { color: 'rgba(0,0,0,0)', opacity: 1 };
// phase and region labels
series.push({
  type: 'scatter', xAxisIndex: 2, yAxisIndex: 2, symbolSize: 1, itemStyle: hiddenDot, silent: true, z: 8, animation: false,
  data: phaseNames.map((n, i) => ({ name: n, value: phaseAnchor[i] })),
  label: { show: true, position: 'inside', formatter: '{b}', fontFamily: 'DejaVu Serif', fontSize: 19, color: '#111' }
});
series.push({
  type: 'scatter', xAxisIndex: 2, yAxisIndex: 2, symbolSize: 1, itemStyle: hiddenDot, silent: true, z: 8, animation: false,
  data: regionNames.map((n, i) => ({ name: n, value: regionAnchor[i], label: { rotate: regionRotate[i] } })),
  label: { show: true, position: 'inside', formatter: '{b}', fontFamily: 'DejaVu Serif', fontSize: 15, lineHeight: 15, color: '#111' }
});
series.push({
  type: 'scatter', xAxisIndex: 2, yAxisIndex: 2, symbolSize: 1, itemStyle: hiddenDot, silent: true, z: 9, animation: false,
  data: [{ name: 'Weak MJO', value: [0, 0] }],
  label: { show: true, position: 'inside', formatter: '{b}', fontFamily: 'DejaVu Serif', fontSize: 20, color: '#111',
           backgroundColor: '#fff', padding: [2, 4, 1, 4] }
});

// red dotted guide
series.push({
  type: 'scatter', xAxisIndex: 2, yAxisIndex: 2, clip: false, symbol: 'diamond', symbolSize: [10, 11], z: 12, silent: true, animation: false,
  itemStyle: { color: '#c00000', opacity: 1 },
  data: guideRMM1.map((x, i) => [x, guideRMM2[i]])
});

const grayAxis = { color: '#8c8c8c', width: 1 };
const blackAxis = { color: '#333', width: 1.2 };
const serifLabel = { fontFamily: 'Liberation Serif', fontSize: 11.5, color: '#444' };
const sansLabel = { fontFamily: 'Liberation Sans', fontSize: 17, color: '#333' };

const option = {
  animation: false,
  backgroundColor: '#fff',
  grid: [
    { left: 63, top: 27, width: 441, height: 441 },
    { left: 585, top: 25, width: 448, height: 449 }
  ],
  xAxis: [
    { gridIndex: 0, type: 'value', min: -3, max: 3, interval: 0.5, position: 'bottom',
      axisLine: { onZero: false, lineStyle: grayAxis }, axisTick: { inside: true, length: 6, lineStyle: grayAxis },
      minorTick: { show: true, splitNumber: 2, length: 3, lineStyle: grayAxis }, splitLine: { show: false },
      axisLabel: Object.assign({ formatter: v => v.toFixed(1), margin: 8 }, serifLabel),
      name: 'RMM1', nameLocation: 'middle', nameGap: 26, nameTextStyle: { fontFamily: 'Liberation Serif', fontSize: 11, color: '#444' } },
    { gridIndex: 0, type: 'value', min: -3, max: 3, interval: 0.5, position: 'top',
      axisLine: { onZero: false, lineStyle: grayAxis }, axisTick: { inside: true, length: 6, lineStyle: grayAxis },
      minorTick: { show: true, splitNumber: 2, length: 3, lineStyle: grayAxis }, splitLine: { show: false }, axisLabel: { show: false } },
    { gridIndex: 1, type: 'value', min: -4, max: 4, interval: 1, position: 'bottom',
      axisLine: { onZero: false, lineStyle: blackAxis }, axisTick: { inside: true, length: 9, lineStyle: blackAxis }, splitLine: { show: false },
      axisLabel: Object.assign({ formatter: v => (v === 0 ? 'RMM1' : String(v)), margin: 5 }, sansLabel) },
    { gridIndex: 1, type: 'value', min: -4, max: 4, interval: 1, position: 'top',
      axisLine: { onZero: false, lineStyle: blackAxis }, axisTick: { inside: true, length: 9, lineStyle: blackAxis }, splitLine: { show: false },
      axisLabel: { show: false } }
  ],
  yAxis: [
    { gridIndex: 0, type: 'value', min: -3.5, max: 2, interval: 0.5, position: 'left',
      axisLine: { onZero: false, lineStyle: grayAxis }, axisTick: { inside: true, length: 6, lineStyle: grayAxis },
      minorTick: { show: true, splitNumber: 2, length: 3, lineStyle: grayAxis }, splitLine: { show: false },
      axisLabel: Object.assign({ formatter: v => v.toFixed(1), margin: 9 }, serifLabel),
      name: 'RMM2', nameLocation: 'middle', nameGap: 44, nameRotate: 90, nameTextStyle: { fontFamily: 'Liberation Serif', fontSize: 11, color: '#444' } },
    { gridIndex: 0, type: 'value', min: -3.5, max: 2, interval: 0.5, position: 'right',
      axisLine: { onZero: false, lineStyle: grayAxis }, axisTick: { inside: true, length: 6, lineStyle: grayAxis },
      minorTick: { show: true, splitNumber: 2, length: 3, lineStyle: grayAxis }, splitLine: { show: false }, axisLabel: { show: false } },
    { gridIndex: 1, type: 'value', min: -4, max: 4, interval: 1, position: 'left',
      axisLine: { onZero: false, lineStyle: blackAxis }, axisTick: { inside: true, length: 9, lineStyle: blackAxis }, splitLine: { show: false },
      axisLabel: Object.assign({ formatter: v => (v === 0 ? 'RMM2' : String(v)), rotate: 90, margin: 5 }, sansLabel),
      name: 'RMM2', nameLocation: 'middle', nameGap: 36, nameRotate: 90, nameTextStyle: { fontFamily: 'Liberation Sans', fontSize: 10, color: '#444' } },
    { gridIndex: 1, type: 'value', min: -4, max: 4, interval: 1, position: 'right',
      axisLine: { onZero: false, lineStyle: blackAxis }, axisTick: { inside: true, length: 9, lineStyle: blackAxis }, splitLine: { show: false },
      axisLabel: { show: false } }
  ],
  graphic: [
    { type: 'rect', shape: { x: 62, y: 3, width: 445, height: 4 }, style: { fill: '#eeeeee' }, silent: true },
    { type: 'line', shape: { x1: 0, y1: 507, x2: 517, y2: 507 }, style: { stroke: '#b4b4b4', lineWidth: 1.5 }, silent: true },
    { type: 'line', shape: { x1: 530, y1: 507, x2: 1045, y2: 507 }, style: { stroke: '#b4b4b4', lineWidth: 1.5 }, silent: true },
    { type: 'text', x: 500, y: 438, z: 50, silent: true,
      style: { text: 'MRI AGCM', fontFamily: 'Liberation Sans', fontSize: 32, fill: '#1767f2', align: 'right', verticalAlign: 'middle' } },
    { type: 'text', x: 672, y: 491, rotation: 0.68, z: 60, silent: true,
      style: { text: 'ne', fontFamily: 'Liberation Sans', fontSize: 54, fill: '#c00000', align: 'center', verticalAlign: 'middle' } }
  ],
  series: series
};
chart.setOption(option);
</script>
</body>
</html>
